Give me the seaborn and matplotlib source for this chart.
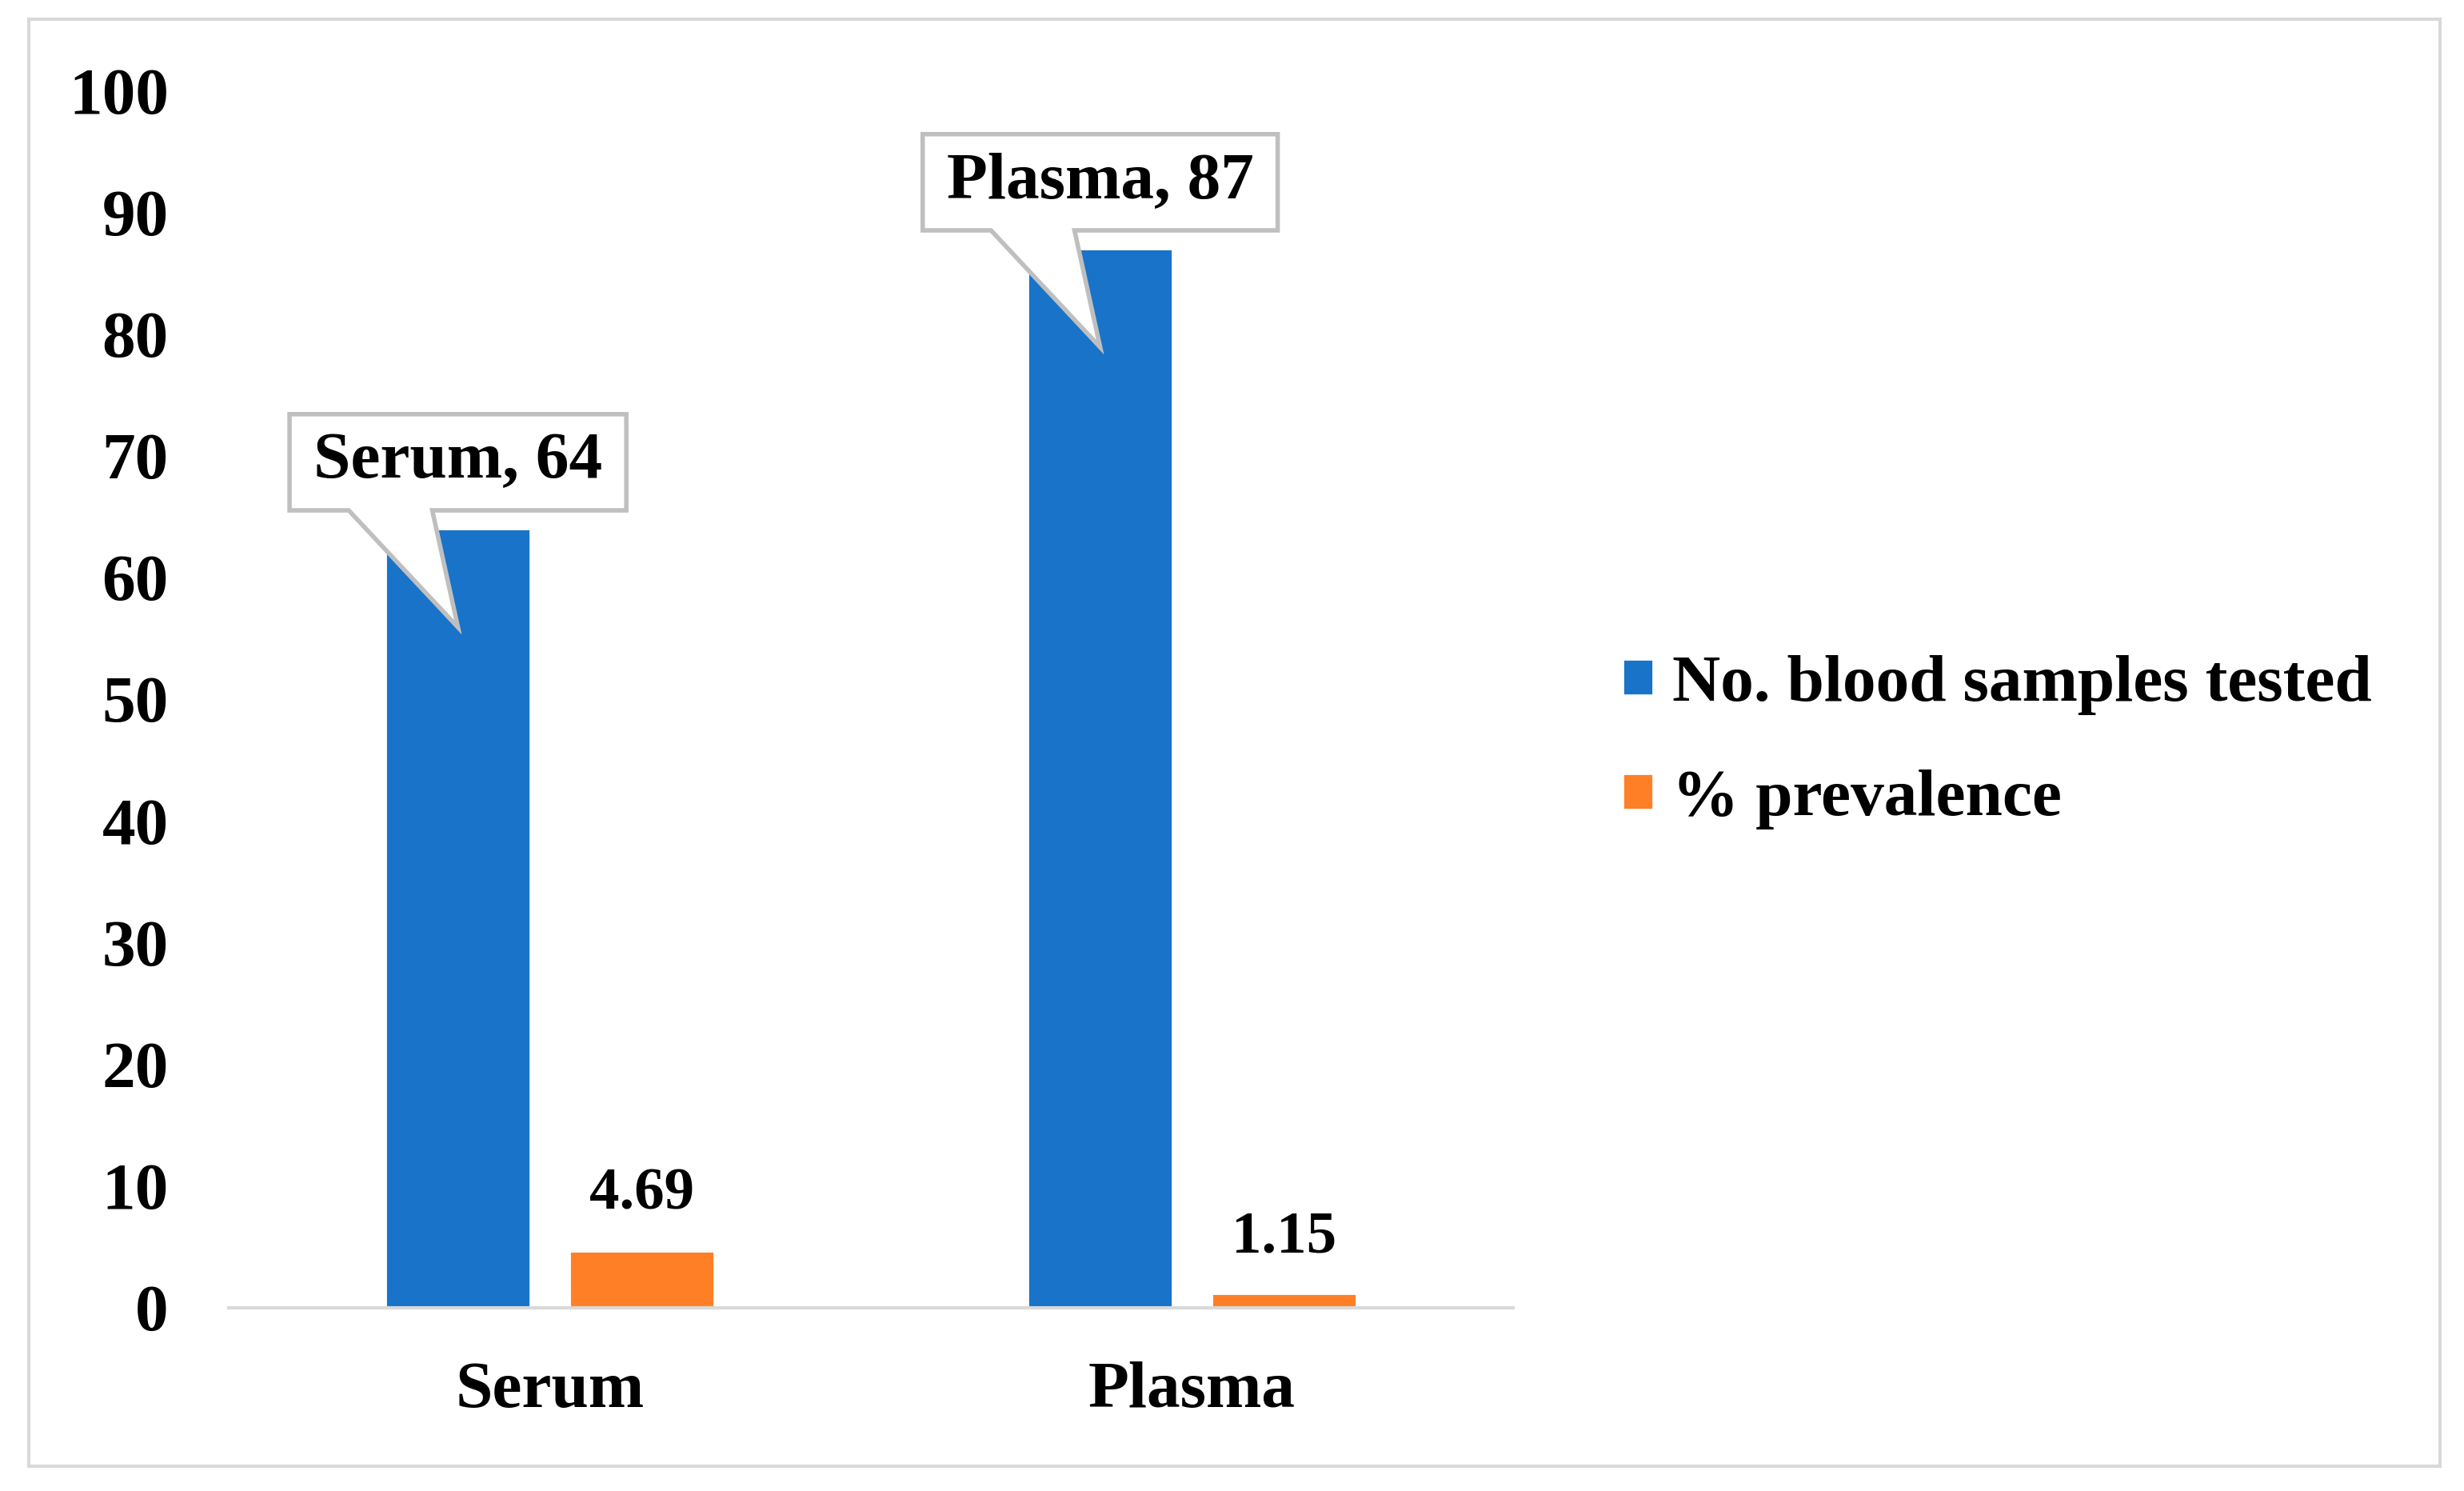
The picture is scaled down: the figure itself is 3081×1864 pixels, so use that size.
import matplotlib
matplotlib.use("Agg")
import matplotlib.pyplot as plt
import seaborn as sns
import pandas as pd
from matplotlib.patches import Polygon, Rectangle

# data
categories = ["Serum", "Plasma"]
series = ["No. blood samples tested", "% prevalence"]
samples_tested = [64, 87]
prevalence = [4.69, 1.15]
colors = ["#1873C9", "#FF7F27"]


def build_frame():
    return pd.DataFrame({
        "sample": categories * 2,
        "series": [series[0]] * len(categories) + [series[1]] * len(categories),
        "value": samples_tested + prevalence,
    })


def add_callout(ax, renderer, x, top, label):
    """Excel style callout: box above the bar with a pointer into it."""
    txt = ax.text(x, top + 5.5, label, ha="center", va="center",
                  fontsize=30, fontweight="bold", color="black", zorder=6)
    bb = txt.get_window_extent(renderer)
    inv = ax.transData.inverted()
    (x0, _), (x1, _) = inv.transform([(bb.x0 - 30, bb.y0), (bb.x1 + 30, bb.y1)])
    y0, y1 = top + 1.5, top + 9.4
    pts = [
        (x0, y1), (x1, y1), (x1, y0),
        (x - 0.04, y0), (x, top - 8.1), (x - 0.17, y0),
        (x0, y0),
    ]
    ax.add_patch(Polygon(pts, closed=True, fc="white", ec="#BFBFBF",
                         lw=2, zorder=5, clip_on=False, joinstyle="miter"))


def create_plot(df):
    sns.set_theme(style="white")
    plt.rcParams["font.family"] = ["Liberation Serif", "DejaVu Serif"]
    plt.rcParams["font.weight"] = "bold"
    for key in ["text.color", "axes.labelcolor", "xtick.color", "ytick.color"]:
        plt.rcParams[key] = "black"

    fig = plt.figure(figsize=(15.405, 9.32), dpi=200)
    ax = fig.add_axes([0.0928, 0.1229, 0.5213, 0.8165])
    sns.barplot(data=df, x="sample", y="value", hue="series",
                order=categories, hue_order=series, palette=colors,
                width=0.572, gap=0.21, saturation=1, ax=ax)

    handles, labels = ax.get_legend_handles_labels()
    ax.get_legend().remove()

    ax.set_xlim(-0.5, 1.5)
    ax.set_ylim(0, 100)
    ax.set_yticks(range(0, 101, 10))
    ax.set_xlabel("")
    ax.set_ylabel("")
    ax.tick_params(axis="y", length=0, pad=27, labelsize=30)
    ax.tick_params(axis="x", length=0, pad=24, labelsize=30)
    for lab in ax.get_xticklabels() + ax.get_yticklabels():
        lab.set_fontweight("bold")
    for side in ["left", "right", "top"]:
        ax.spines[side].set_visible(False)
    ax.spines["bottom"].set_color("#D9D9D9")
    ax.spines["bottom"].set_linewidth(1.5)

    ax.bar_label(ax.containers[1], labels=[f"{v:.2f}" for v in prevalence],
                 padding=13, fontsize=27, fontweight="bold", color="black")

    fig.canvas.draw()
    renderer = fig.canvas.get_renderer()
    for bar, cat, val in zip(ax.containers[0], categories, samples_tested):
        xc = bar.get_x() + bar.get_width() / 2
        add_callout(ax, renderer, xc, bar.get_height(), f"{cat}, {val}")

    fig.legend(handles, labels, loc="center left", bbox_to_anchor=(0.6586, 0.502),
               frameon=False, prop={"size": 30, "weight": "bold"},
               handlelength=0.456, handleheight=0.456, handletextpad=0.29,
               labelspacing=0.82, borderpad=0, borderaxespad=0)

    fig.add_artist(Rectangle((0.0117, 0.0166), 0.9786, 0.9705,
                             transform=fig.transFigure, fill=False,
                             ec="#D9D9D9", lw=1.5))
    return fig


def main():
    fig = create_plot(build_frame())
    fig.savefig("out.png", dpi=200, facecolor="white")


if __name__ == "__main__":
    main()
